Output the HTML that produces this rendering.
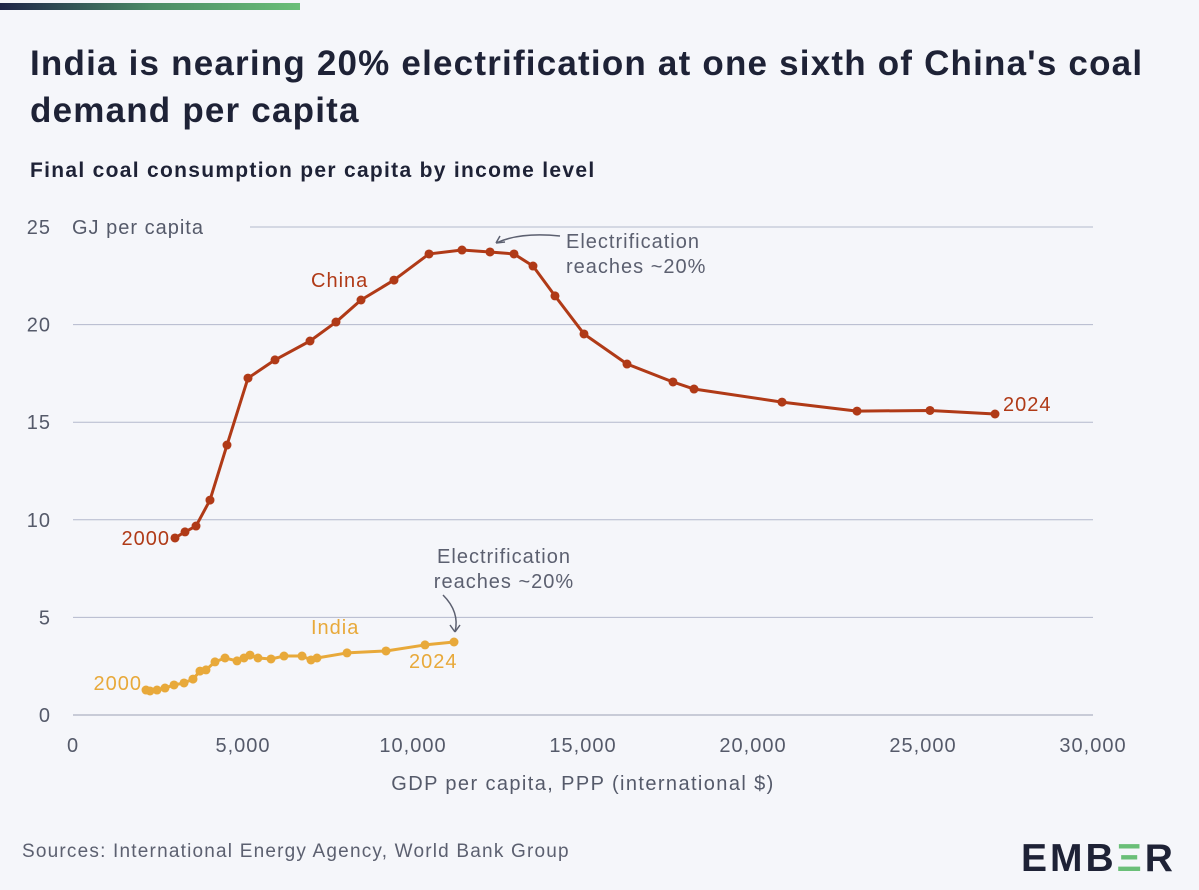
<!DOCTYPE html>
<html><head><meta charset="utf-8"><style>
body{margin:0;background:#f5f6fa;font-family:"Liberation Sans",sans-serif;}
#wrap{position:relative;width:1199px;height:890px;overflow:hidden;background:#f5f6fa;}
svg text{letter-spacing:1px;}
</style></head><body>
<div id="wrap">
<div style="position:absolute;left:0;top:3px;width:300px;height:7px;background:linear-gradient(90deg,#1e2448,#4a8a66 50%,#6abf78);"></div>
<div style="position:absolute;left:30px;top:40px;width:1169px;font-size:35px;letter-spacing:1.2px;font-weight:bold;color:#1e2236;line-height:47px;white-space:nowrap;">India is nearing 20% electrification at one sixth of China's coal<br>demand per capita</div>
<div style="position:absolute;left:30px;top:159px;font-size:21px;letter-spacing:1.3px;font-weight:bold;color:#1e2236;">Final coal consumption per capita by income level</div>
<svg id="chart" width="1199" height="890" style="position:absolute;left:0;top:0"></svg>
<div style="position:absolute;left:22px;top:841px;font-size:19px;letter-spacing:1.2px;color:#5c6070;">Sources: International Energy Agency, World Bank Group</div>
<div style="position:absolute;left:1021px;top:837px;font-size:39px;font-weight:bold;color:#1e2236;letter-spacing:3px;">EMB<span style="color:#6abf78">Ξ</span>R</div>
</div>
<script>
const chinaX=[3000,3294,3618,4029,4529,5147,5941,6971,7735,8471,9441,10471,11441,12265,12971,13529,14176,15029,16294,17647,18265,20853,23059,25206,27118];
const chinaY=[9.07,9.38,9.68,11.01,13.83,17.26,18.19,19.16,20.13,21.26,22.28,23.62,23.82,23.72,23.62,23.0,21.47,19.52,17.98,17.06,16.70,16.03,15.57,15.60,15.42];
const indiaX=[2147,2265,2471,2706,2971,3265,3529,3735,3912,4176,4471,4824,5029,5206,5441,5824,6206,6735,7000,7176,8059,9206,10353,11206];
const indiaY=[1.28,1.23,1.28,1.38,1.54,1.64,1.84,2.25,2.31,2.72,2.92,2.77,2.92,3.07,2.92,2.87,3.02,3.02,2.82,2.92,3.18,3.28,3.59,3.74];
const xTicks=[0,5000,10000,15000,20000,25000,30000];
const xTickLabels=["0","5,000","10,000","15,000","20,000","25,000","30,000"];
const yTicks=[0,5,10,15,20,25];
const NS="http://www.w3.org/2000/svg";
const svg=document.getElementById('chart');
const X=v=>73+v*0.034, Y=v=>715-v*19.52;
function mk(t,a,p){const e=document.createElementNS(NS,t);for(const k in a)e.setAttribute(k,a[k]);(p||svg).appendChild(e);return e;}
yTicks.forEach(t=>{
 const l=mk('line',{x1:t==25?250:73,x2:1093,y1:Y(t),y2:Y(t),stroke:t==0?'#9aa0b4':'#b4b9cc','stroke-width':1});
 
 
 const tx=mk('text',{x:51,y:Y(t)+7,'text-anchor':'end','font-size':20,fill:'#555a6a'});tx.textContent=t;
 
 
});
const yl=mk('text',{x:72,y:Y(25)+7,'font-size':20,fill:'#555a6a'});yl.textContent='GJ per capita';


xTicks.forEach((t,i)=>{
 const tx=mk('text',{x:X(t),y:752,'text-anchor':'middle','font-size':20,fill:'#555a6a'});tx.textContent=xTickLabels[i];
 
 
});
const xl=mk('text',{x:583,y:790,'text-anchor':'middle','font-size':20,fill:'#555a6a','style':'letter-spacing:1.4px'});xl.textContent='GDP per capita, PPP (international $)';


function series(xs,ys,col,name){
 const p=mk('polyline',{points:xs.map((x,i)=>X(x)+','+Y(ys[i])).join(' '),fill:'none',stroke:col,'stroke-width':3,'stroke-linejoin':'round'});
 
 
 xs.forEach((x,i)=>{const c=mk('circle',{cx:X(x),cy:Y(ys[i]),r:4.5,fill:col});
 
 });
}
series(chinaX,chinaY,'#b03a17','china');
series(indiaX,indiaY,'#e8a93a','india');
function label(x,y,t,col,anchor,name){const e=mk('text',{x:x,y:y,'font-size':20,fill:col,'text-anchor':anchor||'start'});e.textContent=t;
 
 }
label(311,287,'China','#b03a17','start','china-label');
label(170,545,'2000','#b03a17','end','china-start-label');
label(1003,411,'2024','#b03a17','start','china-end-label');
label(311,634,'India','#e8a93a','start','india-label');
label(142,690,'2000','#e8a93a','end','india-start-label');
label(409,668,'2024','#e8a93a','start','india-end-label');
label(566,248,'Electrification','#5c6070','start','china-annotation');
label(566,273,'reaches ~20%','#5c6070','start','china-annotation-2');
label(504,563,'Electrification','#5c6070','middle','india-annotation');
label(504,588,'reaches ~20%','#5c6070','middle','india-annotation-2');
const a1=mk('path',{d:'M560,236 Q520,232 496,243 M496,243 l9,-1 M496,243 l4,-7',fill:'none',stroke:'#5c6070','stroke-width':1.5});


const a2=mk('path',{d:'M443,595 Q460,612 455,632 M455,632 l-5,-7 M455,632 l5,-7',fill:'none',stroke:'#5c6070','stroke-width':1.5});


</script>
</body></html>
